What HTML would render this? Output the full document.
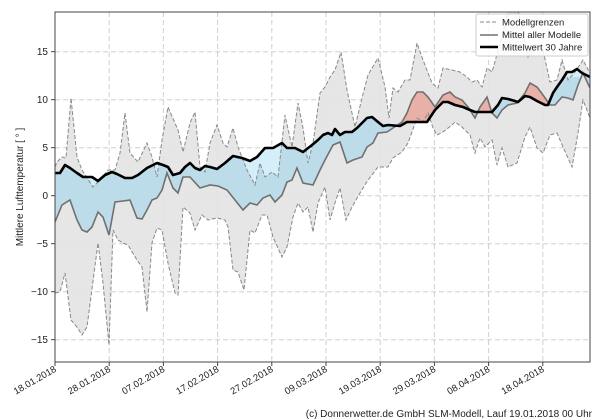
<!DOCTYPE html>
<html><head><meta charset="utf-8"><style>
html,body{margin:0;padding:0;background:#fff;}
svg{display:block;font-family:"Liberation Sans","DejaVu Sans",sans-serif;}
</style></head><body>
<svg width="600" height="420" viewBox="0 0 600 420" xmlns="http://www.w3.org/2000/svg">
<defs>
<clipPath id="plot"><rect x="55" y="12" width="535" height="350"/></clipPath>
<clipPath id="below"><polygon points="55,173 60,173 65,165 70,168 77,173 83,177 92,177 98,181 105,175 112,172 117,174 125,178 132,178 138,175 147,168 157,163 163,165 168,167 173,175 180,173 185,167 190,163 195,168 200,170 205,166 210,167 217,169 225,163 233,156 242,158 250,161 257,157 265,148 273,148 282,143 287,148 295,148 303,152 312,145 318,140 323,135 328,133 332,135 335,129 340,135 345,132 352,132 357,128 362,123 367,118 372,117 378,122 383,126 388,125 400,126 407,122 417,122 427,122 435,110 443,102 448,102 455,105 463,107 470,110 475,112 482,112 492,112 498,105 502,98 508,99 515,101 518,102 525,96 530,97 537,101 545,105 548,105 553,93 557,87 562,80 567,72 572,72 577,69 582,73 590,77 590,400 55,400"/></clipPath>
<clipPath id="above"><polygon points="55,173 60,173 65,165 70,168 77,173 83,177 92,177 98,181 105,175 112,172 117,174 125,178 132,178 138,175 147,168 157,163 163,165 168,167 173,175 180,173 185,167 190,163 195,168 200,170 205,166 210,167 217,169 225,163 233,156 242,158 250,161 257,157 265,148 273,148 282,143 287,148 295,148 303,152 312,145 318,140 323,135 328,133 332,135 335,129 340,135 345,132 352,132 357,128 362,123 367,118 372,117 378,122 383,126 388,125 400,126 407,122 417,122 427,122 435,110 443,102 448,102 455,105 463,107 470,110 475,112 482,112 492,112 498,105 502,98 508,99 515,101 518,102 525,96 530,97 537,101 545,105 548,105 553,93 557,87 562,80 567,72 572,72 577,69 582,73 590,77 590,0 55,0"/></clipPath>
</defs>

<g stroke="#cfcfcf" stroke-width="1" stroke-dasharray="5,3">
<line x1="55" x2="590" y1="51.7" y2="51.7"/><line x1="55" x2="590" y1="99.7" y2="99.7"/>
<line x1="55" x2="590" y1="147.7" y2="147.7"/><line x1="55" x2="590" y1="195.7" y2="195.7"/>
<line x1="55" x2="590" y1="243.7" y2="243.7"/><line x1="55" x2="590" y1="291.7" y2="291.7"/>
<line x1="55" x2="590" y1="339.7" y2="339.7"/>
<line x1="109.2" x2="109.2" y1="12" y2="362"/><line x1="163.4" x2="163.4" y1="12" y2="362"/>
<line x1="217.6" x2="217.6" y1="12" y2="362"/><line x1="271.8" x2="271.8" y1="12" y2="362"/>
<line x1="326" x2="326" y1="12" y2="362"/><line x1="380.2" x2="380.2" y1="12" y2="362"/>
<line x1="434.4" x2="434.4" y1="12" y2="362"/><line x1="488.6" x2="488.6" y1="12" y2="362"/>
<line x1="542.8" x2="542.8" y1="12" y2="362"/>
</g>

<g clip-path="url(#plot)">
<polygon fill="#e3e3e3" fill-opacity="0.9" points="55,167 57,162 62,157 66,158 71,98 77,157 82,170 93,187 100,180 108,170 115,170 120,153 125,113 130,153 138,162 147,143 152,157 157,177 162,140 168,107 178,130 183,152 190,123 195,112 200,167 205,172 210,143 217,125 223,143 227,147 233,128 238,147 247,170 255,185 260,163 265,177 272,172 278,177 285,115 292,147 298,103 303,128 308,163 313,143 320,93 325,87 330,77 335,70 341,52 347,90 355,127 362,98 368,75 378,58 385,87 389,118 393,88 398,92 405,80 410,80 417,43 423,60 432,83 438,88 443,68 452,70 460,72 467,77 472,82 477,80 482,87 487,68 492,72 502,37 508,10 518,10 528,57 537,45 543,50 550,82 557,80 562,60 568,80 575,72 583,60 590,73 590,118 583,100 578,133 572,167 563,147 557,133 550,135 543,153 537,148 530,127 525,137 517,163 508,167 502,148 497,165 492,140 485,147 480,138 475,153 470,135 462,127 455,122 452,125 443,132 437,135 433,128 428,113 423,122 417,118 408,143 402,152 393,158 388,167 378,167 368,180 360,193 352,207 346,220 340,188 335,203 330,220 325,187 318,203 313,232 308,207 303,212 298,203 293,217 287,247 282,257 273,237 267,215 262,215 255,233 250,230 244,290 238,272 233,270 228,227 225,220 217,218 208,220 202,215 195,230 190,213 183,207 178,295 175,293 168,263 162,230 157,228 152,243 147,312 142,267 137,260 128,245 123,243 118,240 113,230 109,345 103,283 98,243 87,327 82,335 77,327 71,320 65,273 60,292 55,293"/>
<polygon clip-path="url(#below)" fill="#bcdce9" points="55,222 62,205 70,200 77,220 82,230 87,232 92,227 98,212 103,217 109,235 115,202 123,201 130,200 137,218 142,219 147,210 152,200 157,198 162,190 167,173 173,188 178,193 183,177 190,177 200,188 210,185 218,186 227,190 235,200 243,210 250,203 257,205 263,198 270,195 275,202 282,195 287,182 292,180 297,168 303,183 313,185 320,170 325,160 333,145 340,142 347,163 353,160 362,157 367,147 373,143 378,133 387,132 393,128 402,122 407,113 412,100 417,92 423,92 428,97 435,107 443,95 450,92 455,97 462,100 468,107 475,118 480,107 487,97 492,113 497,118 502,110 508,105 517,103 525,93 530,83 537,87 543,95 550,105 555,105 562,97 568,98 573,100 578,85 583,73 590,88 590,77 582,73 577,69 572,72 567,72 562,80 557,87 553,93 548,105 545,105 537,101 530,97 525,96 518,102 515,101 508,99 502,98 498,105 492,112 482,112 475,112 470,110 463,107 455,105 448,102 443,102 435,110 427,122 417,122 407,122 400,126 388,125 383,126 378,122 372,117 367,118 362,123 357,128 352,132 345,132 340,135 335,129 332,135 328,133 323,135 318,140 312,145 303,152 295,148 287,148 282,143 273,148 265,148 257,157 250,161 242,158 233,156 225,163 217,169 210,167 205,166 200,170 195,168 190,163 185,167 180,173 173,175 168,167 163,165 157,163 147,168 138,175 132,178 125,178 117,174 112,172 105,175 98,181 92,177 83,177 77,173 70,168 65,165 60,173 55,173"/>
<polygon clip-path="url(#above)" fill="#e8b0a6" points="55,222 62,205 70,200 77,220 82,230 87,232 92,227 98,212 103,217 109,235 115,202 123,201 130,200 137,218 142,219 147,210 152,200 157,198 162,190 167,173 173,188 178,193 183,177 190,177 200,188 210,185 218,186 227,190 235,200 243,210 250,203 257,205 263,198 270,195 275,202 282,195 287,182 292,180 297,168 303,183 313,185 320,170 325,160 333,145 340,142 347,163 353,160 362,157 367,147 373,143 378,133 387,132 393,128 402,122 407,113 412,100 417,92 423,92 428,97 435,107 443,95 450,92 455,97 462,100 468,107 475,118 480,107 487,97 492,113 497,118 502,110 508,105 517,103 525,93 530,83 537,87 543,95 550,105 555,105 562,97 568,98 573,100 578,85 583,73 590,88 590,77 582,73 577,69 572,72 567,72 562,80 557,87 553,93 548,105 545,105 537,101 530,97 525,96 518,102 515,101 508,99 502,98 498,105 492,112 482,112 475,112 470,110 463,107 455,105 448,102 443,102 435,110 427,122 417,122 407,122 400,126 388,125 383,126 378,122 372,117 367,118 362,123 357,128 352,132 345,132 340,135 335,129 332,135 328,133 323,135 318,140 312,145 303,152 295,148 287,148 282,143 273,148 265,148 257,157 250,161 242,158 233,156 225,163 217,169 210,167 205,166 200,170 195,168 190,163 185,167 180,173 173,175 168,167 163,165 157,163 147,168 138,175 132,178 125,178 117,174 112,172 105,175 98,181 92,177 83,177 77,173 70,168 65,165 60,173 55,173"/>
<polygon clip-path="url(#below)" fill="#d5effa" points="55,167 57,162 62,157 66,158 71,98 77,157 82,170 93,187 100,180 108,170 115,170 120,153 125,113 130,153 138,162 147,143 152,157 157,177 162,140 168,107 178,130 183,152 190,123 195,112 200,167 205,172 210,143 217,125 223,143 227,147 233,128 238,147 247,170 255,185 260,163 265,177 272,172 278,177 285,115 292,147 298,103 303,128 308,163 313,143 320,93 325,87 330,77 590,77 590,0 55,0"/>

<g fill="none" stroke="#888" stroke-width="1" stroke-dasharray="4,2">
<polyline points="55,167 57,162 62,157 66,158 71,98 77,157 82,170 93,187 100,180 108,170 115,170 120,153 125,113 130,153 138,162 147,143 152,157 157,177 162,140 168,107 178,130 183,152 190,123 195,112 200,167 205,172 210,143 217,125 223,143 227,147 233,128 238,147 247,170 255,185 260,163 265,177 272,172 278,177 285,115 292,147 298,103 303,128 308,163 313,143 320,93 325,87 330,77 335,70 341,52 347,90 355,127 362,98 368,75 378,58 385,87 389,118 393,88 398,92 405,80 410,80 417,43 423,60 432,83 438,88 443,68 452,70 460,72 467,77 472,82 477,80 482,87 487,68 492,72 502,37 508,10 518,10 528,57 537,45 543,50 550,82 557,80 562,60 568,80 575,72 583,60 590,73"/>
<polyline points="55,293 60,292 65,273 71,320 77,327 82,335 87,327 98,243 103,283 109,345 113,230 118,240 123,243 128,245 137,260 142,267 147,312 152,243 157,228 162,230 168,263 175,293 178,295 183,207 190,213 195,230 202,215 208,220 217,218 225,220 228,227 233,270 238,272 244,290 250,230 255,233 262,215 267,215 273,237 282,257 287,247 293,217 298,203 303,212 308,207 313,232 318,203 325,187 330,220 335,203 340,188 346,220 352,207 360,193 368,180 378,167 388,167 393,158 402,152 408,143 417,118 423,122 428,113 433,128 437,135 443,132 452,125 455,122 462,127 470,135 475,153 480,138 485,147 492,140 497,165 502,148 508,167 517,163 525,137 530,127 537,148 543,153 550,135 557,133 563,147 572,167 578,133 583,100 590,118"/>
</g>
<polyline fill="none" stroke="#707070" stroke-width="1.6" points="55,222 62,205 70,200 77,220 82,230 87,232 92,227 98,212 103,217 109,235 115,202 123,201 130,200 137,218 142,219 147,210 152,200 157,198 162,190 167,173 173,188 178,193 183,177 190,177 200,188 210,185 218,186 227,190 235,200 243,210 250,203 257,205 263,198 270,195 275,202 282,195 287,182 292,180 297,168 303,183 313,185 320,170 325,160 333,145 340,142 347,163 353,160 362,157 367,147 373,143 378,133 387,132 393,128 402,122 407,113 412,100 417,92 423,92 428,97 435,107 443,95 450,92 455,97 462,100 468,107 475,118 480,107 487,97 492,113 497,118 502,110 508,105 517,103 525,93 530,83 537,87 543,95 550,105 555,105 562,97 568,98 573,100 578,85 583,73 590,88"/>
<polyline fill="none" stroke="#000" stroke-width="2.6" stroke-linejoin="round" points="55,173 60,173 65,165 70,168 77,173 83,177 92,177 98,181 105,175 112,172 117,174 125,178 132,178 138,175 147,168 157,163 163,165 168,167 173,175 180,173 185,167 190,163 195,168 200,170 205,166 210,167 217,169 225,163 233,156 242,158 250,161 257,157 265,148 273,148 282,143 287,148 295,148 303,152 312,145 318,140 323,135 328,133 332,135 335,129 340,135 345,132 352,132 357,128 362,123 367,118 372,117 378,122 383,126 388,125 400,126 407,122 417,122 427,122 435,110 443,102 448,102 455,105 463,107 470,110 475,112 482,112 492,112 498,105 502,98 508,99 515,101 518,102 525,96 530,97 537,101 545,105 548,105 553,93 557,87 562,80 567,72 572,72 577,69 582,73 590,77"/>
</g>

<rect x="55" y="12" width="535" height="350" fill="none" stroke="#444" stroke-width="1"/>
<g stroke="#444" stroke-width="1">
<line x1="51" x2="55" y1="51.7" y2="51.7"/><line x1="51" x2="55" y1="99.7" y2="99.7"/><line x1="51" x2="55" y1="147.7" y2="147.7"/><line x1="51" x2="55" y1="195.7" y2="195.7"/><line x1="51" x2="55" y1="243.7" y2="243.7"/><line x1="51" x2="55" y1="291.7" y2="291.7"/><line x1="51" x2="55" y1="339.7" y2="339.7"/>
<line x1="55" x2="55" y1="362" y2="366"/><line x1="109.2" x2="109.2" y1="362" y2="366"/><line x1="163.4" x2="163.4" y1="362" y2="366"/><line x1="217.6" x2="217.6" y1="362" y2="366"/><line x1="271.8" x2="271.8" y1="362" y2="366"/><line x1="326" x2="326" y1="362" y2="366"/><line x1="380.2" x2="380.2" y1="362" y2="366"/><line x1="434.4" x2="434.4" y1="362" y2="366"/><line x1="488.6" x2="488.6" y1="362" y2="366"/><line x1="542.8" x2="542.8" y1="362" y2="366"/>
</g>
<g font-size="10" fill="#222" text-anchor="end">
<text x="48" y="55">15</text><text x="48" y="103">10</text><text x="48" y="151">5</text><text x="48" y="199">0</text><text x="48" y="247">−5</text><text x="48" y="295">−10</text><text x="48" y="343">−15</text>
</g>
<text transform="translate(23,187) rotate(-90)" font-size="10" fill="#222" text-anchor="middle">Mittlere Lufttemperatur [ ° ]</text>

<g font-size="9.5" fill="#222" text-anchor="end">
<text transform="translate(57,371) rotate(-30)">18.01.2018</text>
<text transform="translate(111.2,371) rotate(-30)">28.01.2018</text>
<text transform="translate(165.4,371) rotate(-30)">07.02.2018</text>
<text transform="translate(219.6,371) rotate(-30)">17.02.2018</text>
<text transform="translate(273.8,371) rotate(-30)">27.02.2018</text>
<text transform="translate(328,371) rotate(-30)">09.03.2018</text>
<text transform="translate(382.2,371) rotate(-30)">19.03.2018</text>
<text transform="translate(436.4,371) rotate(-30)">29.03.2018</text>
<text transform="translate(490.6,371) rotate(-30)">08.04.2018</text>
<text transform="translate(544.8,371) rotate(-30)">18.04.2018</text>
</g>
<text x="592" y="417" font-size="10" fill="#222" text-anchor="end">(c) Donnerwetter.de GmbH SLM-Modell, Lauf 19.01.2018 00 Uhr</text>

<rect x="476" y="14" width="112" height="42" rx="2" fill="#fff" fill-opacity="0.85" stroke="#ccc"/>
<line x1="480" x2="498" y1="22" y2="22" stroke="#888" stroke-dasharray="4,2"/>
<line x1="480" x2="498" y1="35" y2="35" stroke="#707070" stroke-width="1.6"/>
<line x1="480" x2="498" y1="47" y2="47" stroke="#000" stroke-width="2.6"/>
<g font-size="9.5" fill="#222">
<text x="502" y="25.5">Modellgrenzen</text>
<text x="502" y="38">Mittel aller Modelle</text>
<text x="502" y="50.5">Mittelwert 30 Jahre</text>
</g>
</svg>
</body></html>
